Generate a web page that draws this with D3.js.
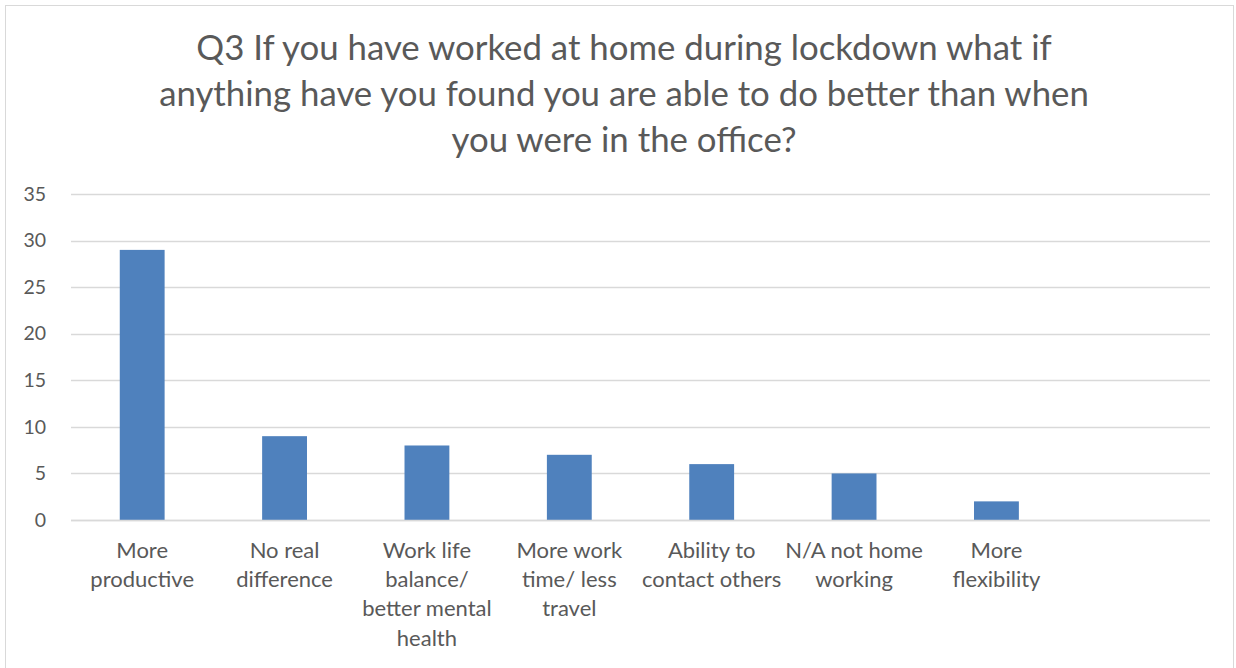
<!DOCTYPE html>
<html>
<head>
<meta charset="utf-8">
<script src="https://cdn.jsdelivr.net/npm/d3@7"></script>
<style>
  html, body { margin: 0; padding: 0; background: #fff; }
  svg { display: block; }
  text { font-family: Lato, "Open Sans", "DejaVu Sans", sans-serif; fill: #595959; }
</style>
</head>
<body>
<svg id="chart" width="1236" height="668"></svg>
<script>
const titleLines = [
  "Q3 If you have worked at home during lockdown what if",
  "anything have you found you are able to do better than when",
  "you were in the office?"
];
const categories = [
  "More productive",
  "No real difference",
  "Work life balance/ better mental health",
  "More work time/ less travel",
  "Ability to contact others",
  "N/A not home working",
  "More flexibility"
];
const categoryLines = [
  ["More", "productive"],
  ["No real", "difference"],
  ["Work life", "balance/", "better mental", "health"],
  ["More work", "time/ less", "travel"],
  ["Ability to", "contact others"],
  ["N/A not home", "working"],
  ["More", "flexibility"]
];
const values = [29, 9, 8, 7, 6, 5, 2];
const yTicks = [0, 5, 10, 15, 20, 25, 30, 35];

const svg = d3.select("#chart");
const plot = { left: 71, right: 1210, top: 194, bottom: 520 };

// chart area border
svg.append("rect")
  .attr("x", 5.5).attr("y", 5.5)
  .attr("width", 1228).attr("height", 700)
  .attr("fill", "none").attr("stroke", "#D9D9D9").attr("stroke-width", 1);

// title
const title = svg.append("g");
titleLines.forEach((t, i) => {
  title.append("text")
    .attr("x", 624).attr("y", 60 + i * 46)
    .attr("text-anchor", "middle")
    .attr("font-size", 34.8)
    .text(t);
});

// scales (Excel chart had one empty trailing category slot)
const x = d3.scaleBand()
  .domain(categories.concat([""]))
  .range([plot.left, plot.right])
  .paddingInner(0.685)
  .paddingOuter(0.3425);
const y = d3.scaleLinear().domain([0, 35]).range([plot.bottom, plot.top]);

// gridlines
svg.append("g")
  .selectAll("line")
  .data(yTicks)
  .join("line")
  .attr("x1", plot.left).attr("x2", plot.right)
  .attr("y1", d => Math.round(y(d)) + 0.5).attr("y2", d => Math.round(y(d)) + 0.5)
  .attr("stroke", "#D9D9D9").attr("stroke-width", 1.3);

// y axis labels
const yAxis = d3.axisLeft(y).tickValues(yTicks).tickSize(0).tickPadding(0);
const yg = svg.append("g").attr("transform", `translate(${46},0)`).call(yAxis);
yg.select(".domain").remove();
yg.selectAll("text")
  .attr("font-size", 19.5)
  .attr("font-family", "Lato, 'Open Sans', sans-serif")
  .attr("fill", "#595959");

// bars
svg.append("g")
  .selectAll("rect")
  .data(values)
  .join("rect")
  .attr("x", (d, i) => x(categories[i]))
  .attr("width", x.bandwidth())
  .attr("y", d => y(d))
  .attr("height", d => y(0) - y(d))
  .attr("fill", "#4F81BD");

// x axis line on top of bars
svg.append("line")
  .attr("x1", plot.left).attr("x2", plot.right)
  .attr("y1", Math.round(y(0)) + 0.5).attr("y2", Math.round(y(0)) + 0.5)
  .attr("stroke", "#D9D9D9").attr("stroke-width", 1.3);

// x category labels
const xl = svg.append("g");
categories.forEach((c, i) => {
  const cx = x(c) + x.bandwidth() / 2;
  const t = xl.append("text")
    .attr("text-anchor", "middle")
    .attr("font-size", 22);
  categoryLines[i].forEach((line, j) => {
    t.append("tspan")
      .attr("x", cx)
      .attr("y", 558 + j * 29.2)
      .text(line);
  });
});
</script>
</body>
</html>
